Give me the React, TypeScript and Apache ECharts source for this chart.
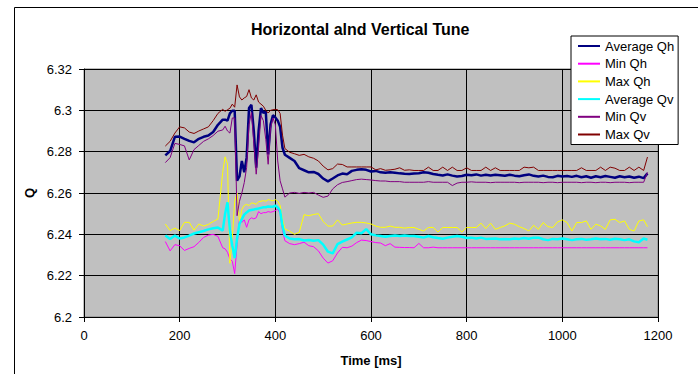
import React, { useEffect, useRef } from "react";
import * as echarts from "echarts";

const times = [
  170, 180, 190, 200, 210, 220, 230, 240, 250, 260, 270, 280, 290,
  295, 300, 305, 310, 315, 320, 325, 330, 335, 340, 345, 350, 355, 360, 365, 370, 375, 380, 385, 390, 395, 400, 405, 410, 415, 420,
  430, 440, 450, 460, 470, 480, 490, 500, 510, 520, 530, 540, 550, 560, 570, 580, 590, 600, 610, 620, 630, 640, 650, 660, 670, 680,
  690, 700, 710, 720, 730, 740, 750, 760, 770, 780, 790, 800, 810, 820, 830, 840, 850, 860, 870, 880,
  890, 900, 910, 920, 930, 940, 950, 960, 970, 980, 990, 1000, 1010, 1020, 1030, 1040, 1050, 1060, 1070, 1080,
  1090, 1100, 1110, 1120, 1130, 1140, 1150, 1160, 1170, 1178,
];

const avgQh = [
  6.2782, 6.2803, 6.2872, 6.2873, 6.2862, 6.2852, 6.2845, 6.2862, 6.2872, 6.2878, 6.2895, 6.293, 6.2955,
  6.2955, 6.295, 6.2985, 6.2998, 6.2998, 6.266, 6.268, 6.2755, 6.27, 6.2771, 6.3011, 6.3027, 6.29, 6.2723, 6.29, 6.3011, 6.2987, 6.2995, 6.2787, 6.2931, 6.2976, 6.2966, 6.295, 6.292, 6.2819, 6.2785,
  6.277, 6.2755, 6.272, 6.271, 6.27, 6.2702, 6.2692, 6.267, 6.2656, 6.267, 6.2685, 6.2694, 6.2691, 6.2707, 6.2712, 6.2715, 6.2712, 6.2704, 6.2707, 6.27, 6.2698, 6.27, 6.2698, 6.2695, 6.2693, 6.2692,
  6.2694, 6.2696, 6.27, 6.2698, 6.2692, 6.2688, 6.2685, 6.269, 6.2684, 6.268, 6.2682, 6.2688, 6.2686, 6.269, 6.2684, 6.2688, 6.2685, 6.2688, 6.2686, 6.2683,
  6.2688, 6.2684, 6.2681, 6.2686, 6.269, 6.2683, 6.268, 6.2684, 6.2678, 6.2676, 6.2683, 6.268, 6.2682, 6.2678, 6.2683, 6.2676, 6.2681, 6.2674, 6.2681, 6.2676,
  6.2682, 6.2678, 6.2674, 6.2681, 6.2676, 6.268, 6.2674, 6.2679, 6.2672, 6.2695,
];

const minQh = [
  6.2365, 6.232, 6.235, 6.2345, 6.2322, 6.2332, 6.234, 6.2361, 6.2385, 6.2396, 6.24, 6.239, 6.2335,
  6.233, 6.2313, 6.2281, 6.227, 6.221, 6.235, 6.2474, 6.2458, 6.247, 6.2434, 6.247, 6.248, 6.2475, 6.248, 6.251, 6.25, 6.2505, 6.2505, 6.251, 6.2507, 6.251, 6.2515, 6.2523, 6.25, 6.242, 6.2369,
  6.2355, 6.235, 6.2355, 6.2362, 6.2345, 6.234, 6.232, 6.2285, 6.2261, 6.2272, 6.231, 6.2337, 6.2335, 6.2343, 6.236, 6.2372, 6.237, 6.2365, 6.236, 6.2358, 6.2345, 6.2355, 6.2338, 6.2337, 6.2336, 6.2336,
  6.2335, 6.2356, 6.2335, 6.2335, 6.2338, 6.2335, 6.2335, 6.2335, 6.2335, 6.2335, 6.2335, 6.2335, 6.2335, 6.2335, 6.2335, 6.2335, 6.2335, 6.2335, 6.2335, 6.2335,
  6.2335, 6.2335, 6.2335, 6.2335, 6.2335, 6.2335, 6.2335, 6.2335, 6.2335, 6.2335, 6.2335, 6.2335, 6.2335, 6.2335, 6.2335, 6.2335, 6.2335, 6.2335, 6.2335, 6.2335,
  6.2335, 6.2335, 6.2335, 6.2335, 6.2335, 6.2335, 6.2335, 6.2335, 6.2335, 6.2335,
];

const maxQh = [
  6.245, 6.2418, 6.243, 6.2418, 6.2458, 6.2458, 6.242, 6.245, 6.244, 6.2448, 6.2462, 6.2474, 6.27,
  6.2775, 6.274, 6.226, 6.238, 6.256, 6.26, 6.246, 6.252, 6.254, 6.2545, 6.2539, 6.2552, 6.255, 6.2545, 6.2558, 6.256, 6.2563, 6.256, 6.2568, 6.2565, 6.2562, 6.2568, 6.256, 6.254, 6.247, 6.2426,
  6.2415, 6.24, 6.241, 6.2495, 6.249, 6.2496, 6.25, 6.2462, 6.244, 6.244, 6.247, 6.2445, 6.245, 6.2455, 6.2458, 6.2458, 6.2455, 6.245, 6.244, 6.2434, 6.2434, 6.244, 6.2434, 6.2434, 6.243, 6.2433,
  6.2433, 6.2424, 6.2416, 6.2433, 6.2433, 6.2411, 6.2433, 6.2433, 6.2433, 6.2433, 6.2411, 6.2433, 6.2433, 6.2433, 6.2454, 6.2428, 6.2454, 6.2424, 6.2433, 6.2441,
  6.2454, 6.2449, 6.2437, 6.2428, 6.2416, 6.2444, 6.2424, 6.2457, 6.2437, 6.2433, 6.246, 6.247, 6.2457, 6.2416, 6.2457, 6.2457, 6.2465, 6.2424, 6.2449, 6.2441,
  6.2424, 6.247, 6.2473, 6.2457, 6.2465, 6.2424, 6.2416, 6.2465, 6.247, 6.2437,
];

const avgQv = [
  6.2394, 6.2377, 6.2394, 6.238, 6.2385, 6.2394, 6.2404, 6.241, 6.2416, 6.2424, 6.2429, 6.2433, 6.2418,
  6.25, 6.2555, 6.242, 6.2345, 6.2285, 6.238, 6.245, 6.2474, 6.2495, 6.2506, 6.2515, 6.2518, 6.252, 6.2523, 6.2525, 6.2528, 6.2531, 6.2531, 6.2535, 6.2533, 6.2534, 6.2539, 6.253, 6.2515, 6.244, 6.2394,
  6.238, 6.2376, 6.2377, 6.237, 6.2373, 6.2369, 6.2372, 6.235, 6.2316, 6.2308, 6.2353, 6.2365, 6.2375, 6.2385, 6.2408, 6.2405, 6.2425, 6.24, 6.2395, 6.2392, 6.2388, 6.2392, 6.2394, 6.2392, 6.2394, 6.2392,
  6.2392, 6.2388, 6.2384, 6.2392, 6.2386, 6.2382, 6.2379, 6.2384, 6.2388, 6.2392, 6.2388, 6.2382, 6.2384, 6.238, 6.2384, 6.2378, 6.2379, 6.238, 6.2376, 6.2378,
  6.2376, 6.238, 6.2378, 6.2382, 6.2379, 6.2384, 6.2384, 6.2376, 6.2372, 6.2378, 6.2376, 6.238, 6.2376, 6.2372, 6.2376, 6.2378, 6.2374, 6.2376, 6.238, 6.2376,
  6.2378, 6.2374, 6.2379, 6.2376, 6.2372, 6.2376, 6.2366, 6.2362, 6.238, 6.2374,
];

const minQv = [
  6.2747, 6.2771, 6.284, 6.2835, 6.2828, 6.276, 6.281, 6.283, 6.285, 6.2862, 6.2878, 6.2899, 6.2905,
  6.2923, 6.29, 6.289, 6.2963, 6.2963, 6.249, 6.256, 6.26, 6.265, 6.2723, 6.2931, 6.299, 6.284, 6.2691, 6.2819, 6.2975, 6.295, 6.286, 6.2739, 6.2915, 6.2963, 6.2931, 6.2755, 6.2659, 6.262, 6.258,
  6.26, 6.2603, 6.2598, 6.2603, 6.26, 6.2603, 6.259, 6.2579, 6.2585, 6.262, 6.264, 6.2651, 6.2655, 6.266, 6.2665, 6.2667, 6.2665, 6.2663, 6.266, 6.2658, 6.2658, 6.2655, 6.2655, 6.2655, 6.2652, 6.2652,
  6.2652, 6.2652, 6.2652, 6.2655, 6.2652, 6.2652, 6.2652, 6.2652, 6.2636, 6.2648, 6.2652, 6.2652, 6.2654, 6.2652, 6.2652, 6.2652, 6.265, 6.2652, 6.2652, 6.2652,
  6.2652, 6.2652, 6.265, 6.2652, 6.2652, 6.2652, 6.2652, 6.265, 6.2652, 6.2652, 6.265, 6.2652, 6.2652, 6.2652, 6.2652, 6.265, 6.2652, 6.2652, 6.265, 6.2652,
  6.2652, 6.265, 6.2652, 6.2652, 6.2652, 6.265, 6.2652, 6.2652, 6.2652, 6.27,
];

const maxQv = [
  6.2827, 6.285, 6.289, 6.292, 6.2915, 6.2895, 6.2888, 6.29, 6.291, 6.292, 6.295, 6.2985, 6.3005,
  6.2995, 6.3003, 6.301, 6.303, 6.3015, 6.3123, 6.3065, 6.305, 6.306, 6.3067, 6.31, 6.306, 6.305, 6.3075, 6.304, 6.303, 6.302, 6.3, 6.2987, 6.3, 6.3003, 6.3005, 6.3003, 6.2985, 6.288, 6.2815,
  6.2797, 6.279, 6.2782, 6.2787, 6.2775, 6.2768, 6.2755, 6.273, 6.2712, 6.2718, 6.274, 6.2738, 6.2726, 6.2726, 6.2726, 6.2726, 6.2726, 6.2726, 6.2712, 6.2718, 6.271, 6.2712, 6.2715, 6.2722, 6.271, 6.2712,
  6.2709, 6.2709, 6.2709, 6.2725, 6.2709, 6.2709, 6.2725, 6.2709, 6.2725, 6.2709, 6.2709, 6.2722, 6.2709, 6.2709, 6.2709, 6.2725, 6.2709, 6.2722, 6.2709, 6.2709,
  6.2709, 6.2709, 6.2709, 6.2725, 6.2722, 6.2725, 6.2709, 6.2709, 6.2709, 6.2709, 6.2709, 6.2709, 6.2709, 6.2709, 6.2709, 6.2722, 6.2709, 6.2709, 6.2709, 6.2725,
  6.2709, 6.2725, 6.272, 6.2709, 6.2709, 6.2725, 6.2709, 6.2725, 6.2709, 6.2774,
];

const seriesNames = ["Average Qh", "Min Qh", "Max Qh", "Average Qv", "Min Qv", "Max Qv"];
const seriesValues = [avgQh, minQh, maxQh, avgQv, minQv, maxQv];
const seriesColors = ["#000080", "#FF00FF", "#FFFF00", "#00FFFF", "#800080", "#800000"];
const seriesWidths = [2.5, 1, 1, 2.5, 1, 1];

const xTicks = { min: 0, max: 1200, interval: 200 };
const yTicks = { min: 6.2, max: 6.32, interval: 0.02 };

const FONT = "'Liberation Sans', Arial, sans-serif";

export default function App() {
  const ref = useRef<HTMLDivElement>(null);
  useEffect(() => {
    if (!ref.current) return;
    const chart = echarts.init(ref.current, null, { renderer: "svg" });
    const option: any = {
      animation: false,
      backgroundColor: "#ffffff",
      title: {
        text: "Horizontal alnd Vertical Tune",
        left: 251,
        top: 21,
        padding: 0,
        textStyle: { fontFamily: FONT, fontSize: 16, fontWeight: "bold", color: "#000" },
      },
      graphic: [
        {
          type: "rect",
          shape: { x: 14.5, y: 7.5, width: 800, height: 500 },
          style: { fill: "none", stroke: "#000", lineWidth: 1 },
          silent: true,
          z: -10,
        },
      ],
      legend: {
        orient: "vertical",
        left: 571,
        top: 36,
        padding: [3, 4, 3, 6],
        itemGap: 3.7,
        itemWidth: 22,
        itemHeight: 14,
        backgroundColor: "#fff",
        borderColor: "#000",
        borderWidth: 1,
        itemStyle: { opacity: 0 },
        textStyle: { fontFamily: FONT, fontSize: 13, color: "#000", lineHeight: 14 },
        data: seriesNames,
        z: 10,
      },
      grid: {
        left: 84,
        top: 69,
        width: 574,
        height: 248,
        show: true,
        backgroundColor: "#C0C0C0",
        borderColor: "#808080",
        borderWidth: 1,
        containLabel: false,
      },
      xAxis: {
        type: "value",
        min: xTicks.min,
        max: xTicks.max,
        interval: xTicks.interval,
        name: "Time [ms]",
        nameLocation: "middle",
        nameGap: 37,
        nameTextStyle: { fontFamily: FONT, fontSize: 13, fontWeight: "bold", color: "#000" },
        axisLine: { show: true, onZero: false, lineStyle: { color: "#000", width: 1 } },
        axisTick: { show: true, inside: false, length: 5, lineStyle: { color: "#000" } },
        splitLine: { show: true, lineStyle: { color: "#000", width: 1 } },
        axisLabel: {
          fontFamily: FONT,
          fontSize: 13,
          color: "#000",
          margin: 12,
          formatter: (v: number) => String(Math.round(v)),
        },
      },
      yAxis: {
        type: "value",
        min: yTicks.min,
        max: yTicks.max,
        interval: yTicks.interval,
        name: "Q",
        nameLocation: "middle",
        nameGap: 43,
        nameRotate: 90,
        nameTextStyle: { fontFamily: FONT, fontSize: 13, fontWeight: "bold", color: "#000" },
        axisLine: { show: true, lineStyle: { color: "#000", width: 1 } },
        axisTick: { show: true, inside: false, length: 5, lineStyle: { color: "#000" } },
        splitLine: { show: true, lineStyle: { color: "#000", width: 1 } },
        axisLabel: {
          fontFamily: FONT,
          fontSize: 13,
          color: "#000",
          margin: 12,
          formatter: (v: number) => String(parseFloat(v.toFixed(2))),
        },
      },
      series: seriesNames.map((name, k) => ({
        name,
        type: "line",
        symbol: "none",
        showSymbol: false,
        color: seriesColors[k],
        lineStyle: { color: seriesColors[k], width: seriesWidths[k] },
        data: times.map((t, i) => [t, seriesValues[k][i]]),
      })),
    };
    chart.setOption(option);
    return () => chart.dispose();
  }, []);
  return (
    <div
      ref={ref}
      style={{ position: "absolute", left: 0, top: 0, width: 698, height: 374 }}
    />
  );
}
